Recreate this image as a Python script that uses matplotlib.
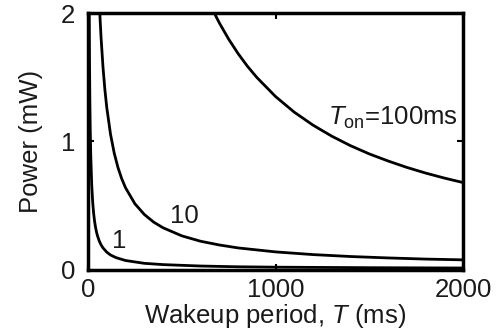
import matplotlib
matplotlib.use("Agg")
import matplotlib.pyplot as plt

plt.rcParams['font.family'] = ['Liberation Sans', 'DejaVu Sans']
plt.rcParams['mathtext.fontset'] = 'custom'
plt.rcParams['mathtext.rm'] = 'Liberation Sans'
plt.rcParams['mathtext.it'] = 'Liberation Sans:italic'

# Ton = 100 ms
t_100 = [670, 700, 750, 800, 850, 900, 1000, 1100, 1200, 1300, 1400, 1500,
         1600, 1700, 1800, 1900, 2000]
p_100 = [2.01, 1.924, 1.797, 1.685, 1.586, 1.499, 1.35, 1.228, 1.127, 1.041,
         0.967, 0.903, 0.848, 0.798, 0.754, 0.715, 0.68]

# Ton = 10 ms
t_10 = [60, 65, 70, 80, 90, 100, 120, 140, 160, 180, 200, 250, 300, 350, 400,
        500, 600, 700, 800, 1000, 1200, 1400, 1600, 1800, 2000]
p_10 = [2.098, 1.938, 1.801, 1.578, 1.404, 1.265, 1.057, 0.908, 0.796, 0.709,
        0.64, 0.515, 0.432, 0.372, 0.328, 0.265, 0.223, 0.194, 0.171, 0.14,
        0.119, 0.104, 0.093, 0.084, 0.078]

# Ton = 1 ms
t_1 = [6, 7, 8, 10, 12, 15, 20, 25, 30, 35, 40, 45, 50, 60, 70, 80, 100, 120,
       150, 200, 300, 400, 600, 800, 1000, 1500, 2000]
p_1 = [2.175, 1.865, 1.633, 1.308, 1.091, 0.875, 0.658, 0.528, 0.441, 0.379,
       0.333, 0.297, 0.268, 0.225, 0.194, 0.171, 0.138, 0.116, 0.095, 0.073,
       0.051, 0.041, 0.030, 0.024, 0.021, 0.017, 0.0145]

x_ticks = [0, 1000, 2000]
y_ticks = [0, 1, 2]

FS = 18.5
TXT = '#1a1a1a'

fig = plt.figure(figsize=(5.04, 3.34), dpi=100)
ax = fig.add_axes([0.1746, 0.192, 0.7441, 0.769])

for t, p in [(t_100, p_100), (t_10, p_10), (t_1, p_1)]:
    ax.plot(t, p, color='black', lw=2.0, solid_capstyle='butt')

ax.set_xlim(0, 2000)
ax.set_ylim(0, 2)
ax.set_xticks(x_ticks)
ax.set_yticks(y_ticks)
ax.set_xticklabels([str(v) for v in x_ticks], fontsize=FS)
ax.set_yticklabels([str(v) for v in y_ticks], fontsize=FS)
ax.tick_params(direction='in', length=4, width=1.5, top=True, right=True,
               colors='black', labelcolor=TXT)
ax.tick_params(axis='x', pad=6)
ax.tick_params(axis='y', pad=9)
for s in ax.spines.values():
    s.set_linewidth(2.5)

ax.set_xlabel(r'Wakeup period, $T$ (ms)', fontsize=FS, color=TXT)
ax.set_ylabel('Power (mW)', fontsize=FS, color=TXT)
ax.xaxis.set_label_coords(0.5, -0.125)
ax.yaxis.set_label_coords(-0.12, 0.5)

ax.text(1282, 1.13, r'$T_{\mathrm{on}}$=100ms', fontsize=FS, ha='left',
        va='baseline', color=TXT)
ax.text(436, 0.366, '10', fontsize=FS, ha='left', va='baseline', color=TXT)
ax.text(128, 0.17, '1', fontsize=FS, ha='left', va='baseline', color=TXT)

fig.savefig('out.png', dpi=100)
